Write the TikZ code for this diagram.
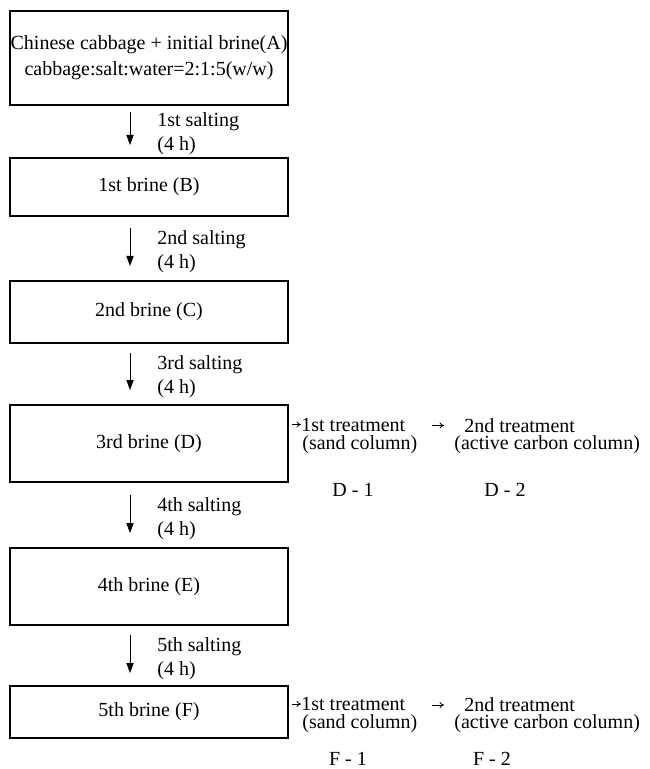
\documentclass[tikz,border=0pt]{standalone}
\usepackage{fontspec}
\setmainfont{Liberation Serif}
\usetikzlibrary{positioning,calc,arrows.meta}

\begin{document}
\begin{tikzpicture}[x=0.5pt, y=-0.5pt,
        brine/.style={draw, rectangle, minimum width=139pt, align=center, inner sep=0pt, outer sep=0pt, line width=0.6pt},
        salt/.style={right, xshift=13.5pt, yshift=-2.5pt, inner sep=0pt, align=left, font=\fontsize{10}{12}\selectfont},
        col/.style={anchor=west, inner sep=0pt},
        lab/.style={inner sep=0pt},
        tip/.style={-{To[length=2.2pt, width=3pt]}, line width=0.4pt},
        >={Triangle[length=5pt, width=3.6pt]}
    ]
        \useasboundingbox (0,0) rectangle (649,769);

        % salting steps
        \node [brine, minimum height=47pt, font=\fontsize{10}{13}\selectfont] (A) at (149,58) {Chinese cabbage + initial brine(A)\\cabbage:salt:water=2:1:5(w/w)};
        \node [brine, minimum height=29pt, below=26.5pt of A] (B) {1st brine (B)};
        \node [brine, minimum height=31pt, below=32.5pt of B] (C) {2nd brine (C)};
        \node [brine, minimum height=38.5pt, below=31pt of C] (D) {3rd brine (D)};
        \node [brine, minimum height=38.5pt, below=33pt of D] (E) {4th brine (E)};
        \node [brine, minimum height=26pt, below=30.5pt of E] (F) {5th brine (F)};

        \draw [->, line width=0.4pt] ($(A.south)+(-19,7)$) -- node[salt]{1st salting\\(4 h)} ($(B.north)+(-19,-13)$);
        \draw [->, line width=0.4pt] ($(B.south)+(-19,12)$) -- node[salt]{2nd salting\\(4 h)} ($(C.north)+(-19,-15)$);
        \draw [->, line width=0.4pt] ($(C.south)+(-19,10)$) -- node[salt]{3rd salting\\(4 h)} ($(D.north)+(-19,-15)$);
        \draw [->, line width=0.4pt] ($(D.south)+(-19,13)$) -- node[salt]{4th salting\\(4 h)} ($(E.north)+(-19,-15)$);
        \draw [->, line width=0.4pt] ($(E.south)+(-19,10)$) -- node[salt]{5th salting\\(4 h)} ($(F.north)+(-19,-13)$);

        % treatment of 3rd brine
        \node [col] (D1) at ($(D.east)+(13,-19)$) {1st treatment};
        \node [col] (D1c) at ($(D.east)+(14,1)$) {(sand column)};
        \node [col] (D2) at ($(D.east)+(176,-18)$) {2nd treatment};
        \node [col] (D2c) at ($(D.east)+(166,1)$) {(active carbon column)};
        \node [lab] (D1n) at ($(D.east)+(65,46)$) {D - 1};
        \node [lab] (D2n) at ($(D.east)+(217,46)$) {D - 2};
        \draw [tip, shorten <=2pt] (D.east |- D1.west) -- (D1.west);
        \draw [tip] ([xshift=-16pt]D2.west) -- ([xshift=-10pt]D2.west);

        % treatment of 5th brine
        \node [col] (F1) at ($(F.east)+(13,-8)$) {1st treatment};
        \node [col] (F1c) at ($(F.east)+(14,12)$) {(sand column)};
        \node [col] (F2) at ($(F.east)+(176,-7)$) {2nd treatment};
        \node [col] (F2c) at ($(F.east)+(166,12)$) {(active carbon column)};
        \node [lab] (F1n) at ($(F.east)+(60,47)$) {F - 1};
        \node [lab] (F2n) at ($(F.east)+(204,47)$) {F - 2};
        \draw [tip, shorten <=2pt] (F.east |- F1.west) -- (F1.west);
        \draw [tip] ([xshift=-16pt]F2.west) -- ([xshift=-10pt]F2.west);
    \end{tikzpicture}
\end{document}
